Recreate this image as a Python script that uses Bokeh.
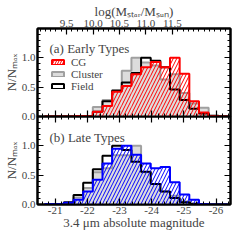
import numpy as np
from bokeh.plotting import figure
from bokeh.models import Range1d, LinearAxis, FixedTicker, Label, Legend, LegendItem
from bokeh.layouts import column
from bokeh.embed import file_html
from bokeh.resources import INLINE

# ---------------- data ----------------
BIN_EDGES = [-20.67, -20.97, -21.27, -21.57, -21.87, -22.17, -22.47, -22.77,
             -23.07, -23.37, -23.67, -23.97, -24.27, -24.57, -24.87, -25.17,
             -25.47, -25.77, -26.07, -26.37]

EARLY_CG      = [0, 0, 0, 0.01, 0.01, 0.08, 0.18, 0.42, 0.52, 0.72, 0.84, 0.93, 0.84, 1.00, 0.73, 0.26, 0.07, 0.01, 0]
EARLY_CLUSTER = [0, 0, 0, 0, 0, 0.16, 0.28, 0.45, 0.78, 1.00, 0.92, 0.87, 0.63, 0.72, 0.40, 0.22, 0.15, 0.02, 0]
EARLY_FIELD   = [0, 0, 0, 0, 0, 0.08, 0.26, 0.44, 0.58, 0.74, 1.00, 0.95, 0.84, 0.46, 0.28, 0.13, 0.05, 0.01, 0]

LATE_CG       = [0.01, 0.01, 0.03, 0.08, 0.22, 0.42, 0.70, 0.95, 1.00, 0.85, 0.70, 0.62, 0.64, 0.38, 0.17, 0.08, 0.01, 0, 0]
LATE_CLUSTER  = [0, 0, 0.02, 0.12, 0.28, 0.55, 0.62, 0.84, 0.84, 1.00, 0.55, 0.35, 0.22, 0.15, 0.05, 0.02, 0, 0, 0]
LATE_FIELD    = [0, 0.01, 0.04, 0.16, 0.37, 0.60, 0.83, 1.00, 0.93, 0.73, 0.56, 0.35, 0.22, 0.11, 0.04, 0.01, 0, 0, 0]

SERIES_LABELS = ["CG", "Cluster", "Field"]
PANEL_LABELS = ["(a) Early Types", "(b) Late Types"]

MAG_RANGE = (-20.45, -26.45)
MASS_RANGE = (8.951, 12.597)
MAG_TICKS = [-21, -22, -23, -24, -25, -26]
MAG_TICK_LABELS = ["-21", "-22", "-23", "-24", "-25", "-26"]
MASS_TICKS = [9.5, 10.0, 10.5, 11.0, 11.5]
MASS_TICK_LABELS = ["9.5", "10.0", "10.5", "11.0", "11.5"]
Y_TICKS = [0.0, 0.5, 1.0]
Y_TICK_LABELS = ["0.0", "0.5", "1.0"]

MAG_MINOR = list(np.round(np.arange(-20.6, -26.45, -0.2), 2))
MASS_MINOR = list(np.round(np.arange(9.0, 12.6, 0.1), 2))
Y_MINOR = list(np.round(np.arange(0.0, 1.51, 0.1), 2))

SERIF = "Liberation Serif"
W = 232
GRAY_FILL = "#dcdcdc"
GRAY_LINE = "#a0a0a0"
OVERLAP = 6


def style_axis(ax, ticks, minor, labels=None, show=True, size="11px"):
    ax.ticker = FixedTicker(ticks=ticks, minor_ticks=minor)
    ax.major_tick_in = 6
    ax.major_tick_out = 0
    ax.minor_tick_in = 3
    ax.minor_tick_out = 0
    ax.axis_line_width = 2
    ax.axis_line_color = "black"
    ax.major_tick_line_width = 1.2
    ax.minor_tick_line_width = 1
    ax.major_label_text_font = SERIF
    ax.major_label_text_font_size = size
    ax.major_label_standoff = 2
    if show:
        if labels is not None:
            ax.major_label_overrides = {t: l for t, l in zip(ticks, labels)}
    else:
        ax.major_label_overrides = {t: "" for t in ticks}
        ax.major_label_text_color = None
        ax.major_label_standoff = 0


def hist(p, color, cg, cluster, field):
    left = BIN_EDGES[:-1]
    right = BIN_EDGES[1:]
    p.quad(left=left, right=right, bottom=0, top=cluster,
           fill_color=GRAY_FILL, line_color=None)
    p.step(x=BIN_EDGES, y=list(cluster) + [cluster[-1]], mode="after",
           line_color=GRAY_LINE, line_width=2)
    p.step(x=BIN_EDGES, y=list(field) + [field[-1]], mode="after",
           line_color="black", line_width=2)
    p.quad(left=left, right=right, bottom=0, top=cg, fill_color=None,
           line_color=None, hatch_pattern="/", hatch_color=color,
           hatch_scale=7, hatch_weight=1)
    p.step(x=BIN_EDGES, y=list(cg) + [cg[-1]], mode="after",
           line_color=color, line_width=2)


def base_fig(height, top, bottom):
    p = figure(width=W, height=height, x_range=Range1d(*MAG_RANGE),
               y_range=Range1d(0, 1.5), output_backend="svg",
               toolbar_location=None, min_border_left=29,
               min_border_right=2, min_border_top=top,
               min_border_bottom=bottom)
    p.xgrid.visible = False
    p.ygrid.visible = False
    p.outline_line_color = "black"
    p.outline_line_width = 2
    p.background_fill_color = "white"
    style_axis(p.yaxis[0], Y_TICKS, Y_MINOR, Y_TICK_LABELS, size="11px")
    p.yaxis[0].axis_label = "N/N\u2098\u2090\u2093"
    p.yaxis[0].axis_label_text_font = SERIF
    p.yaxis[0].axis_label_text_font_size = "13px"
    p.yaxis[0].axis_label_text_font_style = "normal"
    p.yaxis[0].axis_label_standoff = 0
    ax_r = LinearAxis()
    style_axis(ax_r, Y_TICKS, Y_MINOR, show=False)
    p.add_layout(ax_r, "right")
    return p


# ---------------- top panel ----------------
p1 = base_fig(116 + OVERLAP, 0, OVERLAP)
p1.extra_x_ranges = {"mass": Range1d(*MASS_RANGE)}
style_axis(p1.xaxis[0], MAG_TICKS, MAG_MINOR, show=False)
ax_top = LinearAxis(x_range_name="mass")
style_axis(ax_top, MASS_TICKS, MASS_MINOR, MASS_TICK_LABELS)
ax_top.axis_label = "log(M\u209b\u209c\u2090\u1d63/M\u209b\u1d64\u2099)"
ax_top.axis_label_text_font = SERIF
ax_top.axis_label_text_font_size = "13px"
ax_top.axis_label_text_font_style = "normal"
ax_top.axis_label_standoff = -2
p1.add_layout(ax_top, "above")

hist(p1, "red", EARLY_CG, EARLY_CLUSTER, EARLY_FIELD)

# legend swatches: hidden copies carrying the swatch style
left, right = BIN_EDGES[:-1], BIN_EDGES[1:]
leg_cg = p1.quad(left=left, right=right, top=EARLY_CG, bottom=0,
                 fill_color="white", hatch_pattern="/", hatch_color="red",
                 hatch_scale=5, line_color="red", line_width=2, visible=False)
leg_cl = p1.quad(left=left, right=right, top=EARLY_CLUSTER, bottom=0,
                 fill_color=GRAY_FILL, line_color=GRAY_LINE, line_width=2,
                 visible=False)
leg_f = p1.quad(left=left, right=right, top=EARLY_FIELD, bottom=0,
                fill_color="white", line_color="black", line_width=2,
                visible=False)
legend = Legend(items=[LegendItem(label=SERIES_LABELS[0], renderers=[leg_cg]),
                       LegendItem(label=SERIES_LABELS[1], renderers=[leg_cl]),
                       LegendItem(label=SERIES_LABELS[2], renderers=[leg_f])],
                location=(13, 24), padding=0, margin=0, spacing=-8,
                glyph_width=15, glyph_height=6, label_standoff=6,
                label_height=8, label_text_font=SERIF,
                label_text_font_size="11px", background_fill_alpha=0,
                border_line_color=None)
p1.add_layout(legend, "center")

p1.add_layout(Label(x=12, y=61, x_units="screen", y_units="screen",
                    text=PANEL_LABELS[0], text_font=SERIF,
                    text_font_size="13px"))

# ---------------- bottom panel ----------------
p2 = base_fig(116, 0, 0)
p2.margin = (-OVERLAP, 0, 0, 0)
p2.border_fill_alpha = 0
style_axis(p2.xaxis[0], MAG_TICKS, MAG_MINOR, MAG_TICK_LABELS)
p2.xaxis[0].axis_label = "3.4 \u03bcm absolute magnitude"
p2.xaxis[0].axis_label_text_font = SERIF
p2.xaxis[0].axis_label_text_font_size = "13px"
p2.xaxis[0].axis_label_text_font_style = "normal"
p2.xaxis[0].axis_label_standoff = -2
ax_t2 = LinearAxis()
style_axis(ax_t2, MAG_TICKS, MAG_MINOR, show=False)
p2.add_layout(ax_t2, "above")

hist(p2, "blue", LATE_CG, LATE_CLUSTER, LATE_FIELD)
p2.add_layout(Label(x=12, y=60, x_units="screen", y_units="screen",
                    text=PANEL_LABELS[1], text_font=SERIF,
                    text_font_size="13px"))

layout = column(p1, p2, spacing=0)
open("out.html", "w").write(file_html(layout, INLINE))
